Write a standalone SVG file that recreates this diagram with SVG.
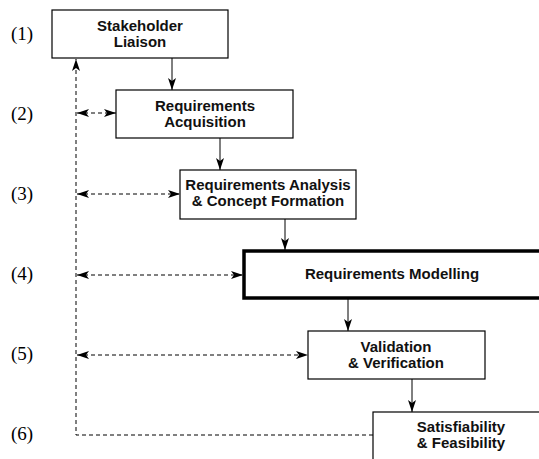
<svg xmlns="http://www.w3.org/2000/svg" width="539" height="459" viewBox="0 0 539 459">
<defs>
<marker id="ah" viewBox="0 0 12 8" refX="12" refY="4" markerWidth="12" markerHeight="8" markerUnits="userSpaceOnUse" orient="auto-start-reverse">
<path d="M0,0 L12,4 L0,8 L3,4 Z" fill="#000"/>
</marker>
</defs>
<style>
.box{fill:#fff;stroke:#000;stroke-width:1.2}
.thick{fill:#fff;stroke:#000;stroke-width:3.5}
.t{font-family:"Liberation Sans",Arial,sans-serif;font-weight:bold;font-size:15px;text-anchor:middle;fill:#111}
.lab{font-family:"Liberation Serif","Times New Roman",serif;font-size:19px;fill:#000}
.solid{fill:none;stroke:#000;stroke-width:1}
.dash{fill:none;stroke:#000;stroke-width:1;stroke-dasharray:4,3}
</style>
<rect width="539" height="459" fill="#fff"/>
<g id="labels">
<text class="lab" x="11" y="40">(1)</text>
<text class="lab" x="11" y="120">(2)</text>
<text class="lab" x="11" y="200">(3)</text>
<text class="lab" x="11" y="280">(4)</text>
<text class="lab" x="11" y="360">(5)</text>
<text class="lab" x="11" y="440">(6)</text>
</g>
<g id="connectors">
<path class="solid" d="M172,58 V90" marker-end="url(#ah)"/>
<path class="solid" d="M220,138 V170" marker-end="url(#ah)"/>
<path class="solid" d="M285,219 V250" marker-end="url(#ah)"/>
<path class="solid" d="M348,299 V331" marker-end="url(#ah)"/>
<path class="solid" d="M412,379 V412" marker-end="url(#ah)"/>
<path class="dash" d="M373,435 H76 V59" marker-end="url(#ah)"/>
<path class="dash" d="M77,113 H116" marker-start="url(#ah)" marker-end="url(#ah)"/>
<path class="dash" d="M77,194 H180" marker-start="url(#ah)" marker-end="url(#ah)"/>
<path class="dash" d="M77,275 H243" marker-start="url(#ah)" marker-end="url(#ah)"/>
<path class="dash" d="M77,355 H308" marker-start="url(#ah)" marker-end="url(#ah)"/>
</g>
<g id="n1">
<rect class="box" x="52" y="10" width="176" height="48"/>
<text class="t" x="140" y="31">Stakeholder</text>
<text class="t" x="140" y="47">Liaison</text>
</g>
<g id="n2">
<rect class="box" x="116" y="90" width="177" height="48"/>
<text class="t" x="205" y="111">Requirements</text>
<text class="t" x="205" y="127">Acquisition</text>
</g>
<g id="n3">
<rect class="box" x="180" y="170" width="176" height="49"/>
<text class="t" x="268" y="190">Requirements Analysis</text>
<text class="t" x="268" y="206">&amp; Concept Formation</text>
</g>
<g id="n4">
<rect class="thick" x="244" y="251" width="300" height="47"/>
<text class="t" x="392" y="279">Requirements Modelling</text>
</g>
<g id="n5">
<rect class="box" x="308" y="331" width="177" height="48"/>
<text class="t" x="396" y="352">Validation</text>
<text class="t" x="396" y="368">&amp; Verification</text>
</g>
<g id="n6">
<rect class="box" x="373" y="412" width="180" height="60"/>
<text class="t" x="461" y="432">Satisfiability</text>
<text class="t" x="461" y="448">&amp; Feasibility</text>
</g>
</svg>
